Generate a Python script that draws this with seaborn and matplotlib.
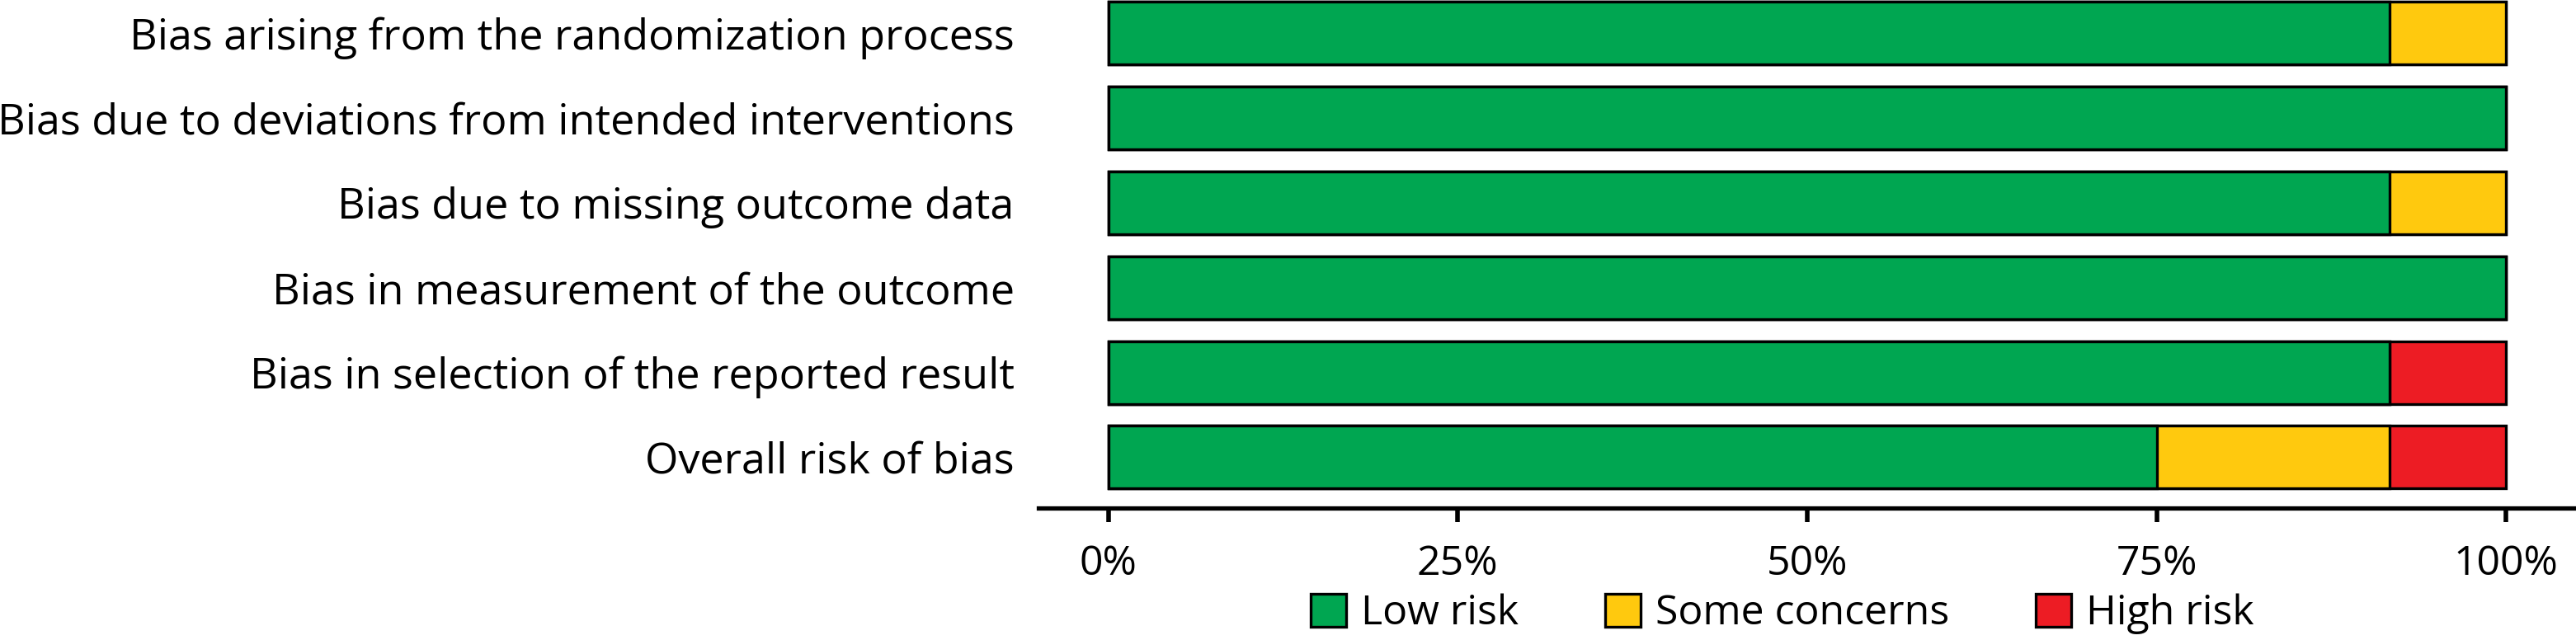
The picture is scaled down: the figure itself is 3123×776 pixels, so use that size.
import matplotlib
matplotlib.use("Agg")
import matplotlib.pyplot as plt
import seaborn as sns
import pandas as pd
from matplotlib.patches import Patch

# risk-of-bias domains and percentage of studies per judgement
domains = [
    "Bias arising from the randomization process",
    "Bias due to deviations from intended interventions",
    "Bias due to missing outcome data",
    "Bias in measurement of the outcome",
    "Bias in selection of the reported result",
    "Overall risk of bias",
]
low_risk = [91.67, 100, 91.67, 100, 91.67, 75.0]
some_concerns = [8.33, 0, 8.33, 0, 0, 16.67]
high_risk = [0, 0, 0, 0, 8.33, 8.33]
ticks = [0, 25, 50, 75, 100]
tick_labels = ["0%", "25%", "50%", "75%", "100%"]

colors = {"Low risk": "#00A651", "Some concerns": "#FFC90E", "High risk": "#ED1C24"}

sns.set_style("white")
plt.rcParams["font.family"] = ["Open Sans", "DejaVu Sans"]
plt.rcParams["text.color"] = "black"
plt.rcParams["xtick.color"] = "black"
plt.rcParams["ytick.color"] = "black"

df = pd.DataFrame({"domain": domains, "low": low_risk,
                   "some": some_concerns, "high": high_risk})
df["cum_some"] = df["low"] + df["some"]
df["cum_high"] = df["cum_some"] + df["high"]

fig = plt.figure(figsize=(31.23, 7.76), dpi=100)
ax = fig.add_axes([0.4031, 0.206, 0.5969, 0.794])

# stacked bars drawn as layered cumulative totals
for col, name in [("cum_high", "High risk"), ("cum_some", "Some concerns"), ("low", "Low risk")]:
    sns.barplot(data=df, x=col, y="domain", orient="h", color=colors[name],
                saturation=1, width=0.74, edgecolor="black", linewidth=2.4, ax=ax)

ax.set_xlim(-5, 105)
ax.set_ylim(5.60, -0.39)
ax.set_xticks(ticks)
ax.set_xticklabels(tick_labels, fontsize=36)
ax.tick_params(axis="y", labelsize=37.5, length=0, pad=21)
ax.tick_params(axis="x", bottom=True, length=12, width=4, pad=19, direction="out")
ax.set_xlabel("")
ax.set_ylabel("")

for side in ["top", "right", "left"]:
    ax.spines[side].set_visible(False)
ax.spines["bottom"].set_linewidth(3.8)
ax.spines["bottom"].set_color("black")

handles = [Patch(facecolor=colors[k], edgecolor="black", linewidth=2.4, label=k)
           for k in ["Low risk", "Some concerns", "High risk"]]
fig.legend(handles=handles, loc="center", bbox_to_anchor=(0.692, 0.041), ncol=3,
           frameon=False, fontsize=36, handlelength=0.86, handleheight=0.86,
           handletextpad=0.36, columnspacing=2.1, borderpad=0)

fig.savefig("out.png", dpi=100)
